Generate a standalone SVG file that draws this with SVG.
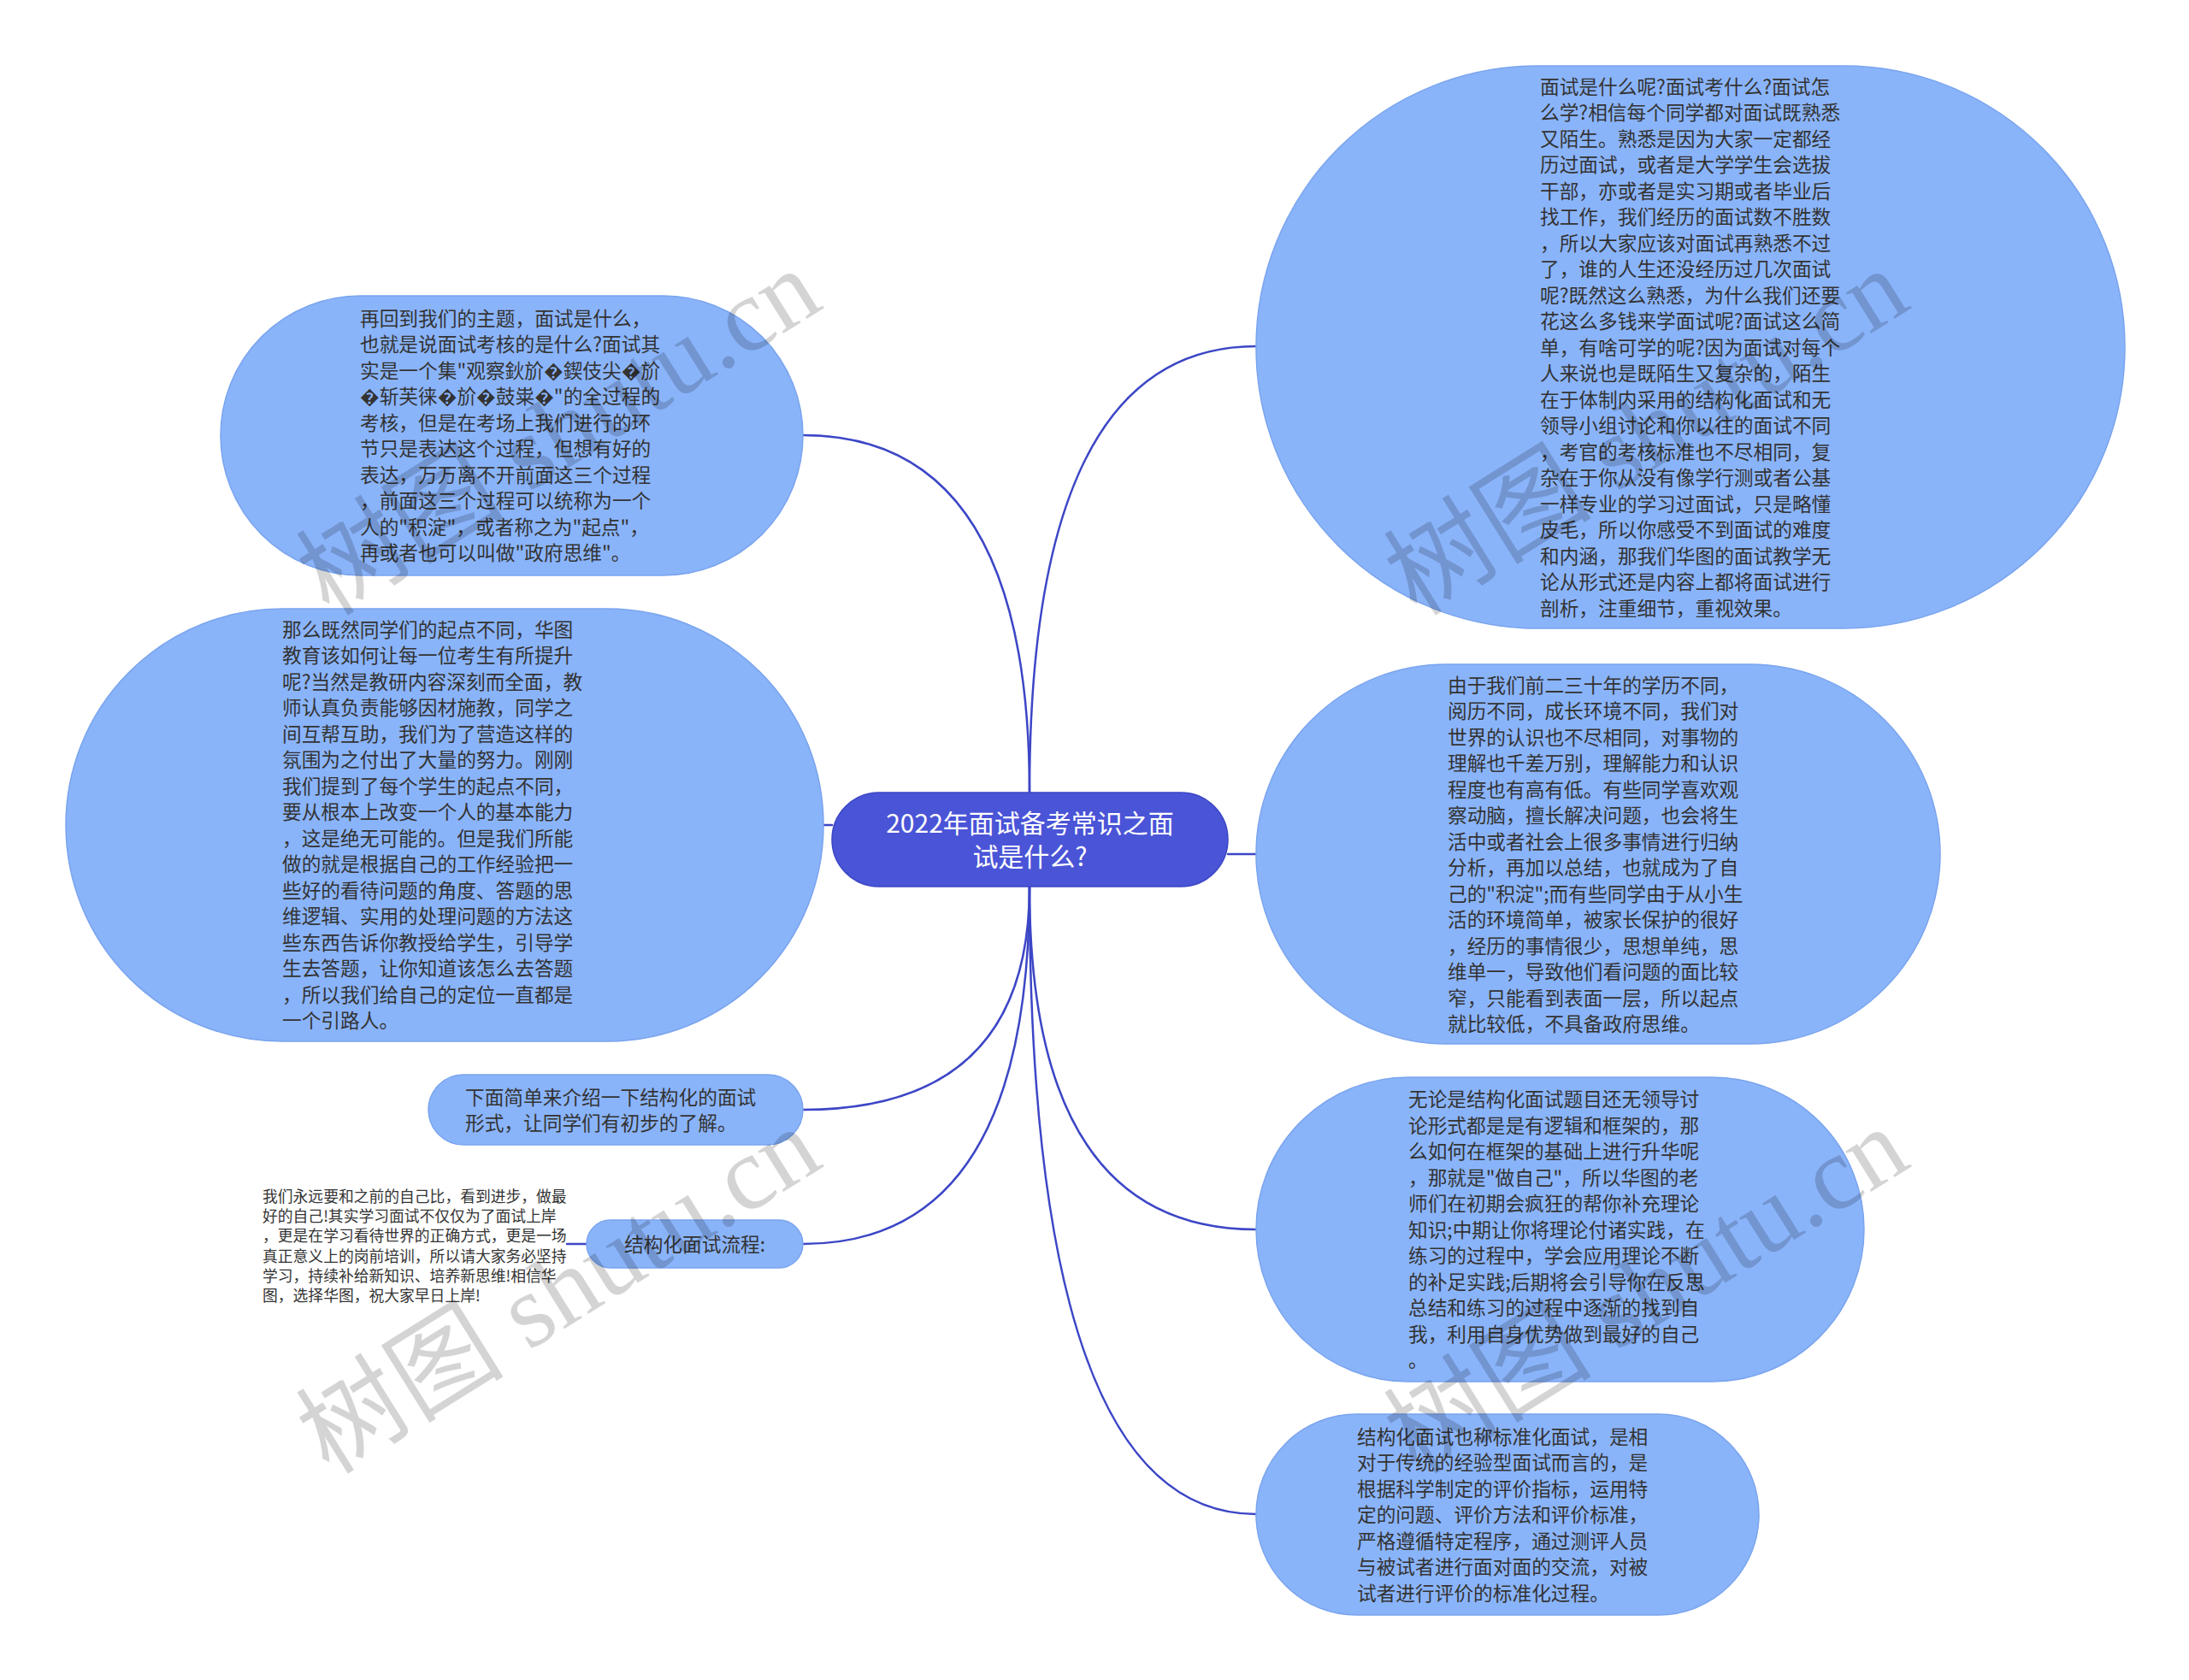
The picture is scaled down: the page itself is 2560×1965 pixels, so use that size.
<svg xmlns="http://www.w3.org/2000/svg" width="2560" height="1965" viewBox="0 0 2560 1965">
<style>
.bg{fill:#ffffff}
.node{fill:#8ab4fa;stroke:#7aa4ee;stroke-width:1.5}
.root{fill:#4a54d7;stroke:#3c46c4;stroke-width:1.5}
.t{font-family:"Noto Sans CJK SC","Noto Sans",sans-serif;font-size:22.7px;fill:#333333}
.rt{font-family:"Noto Sans CJK SC","Noto Sans",sans-serif;font-size:30px;fill:#ffffff;text-anchor:middle}
.small{font-family:"Noto Sans CJK SC","Noto Sans",sans-serif;font-size:17.8px;fill:#333333}
.link{fill:none;stroke:#3c46c6;stroke-width:2.5;stroke-linecap:round}
.wm{font-family:"Liberation Serif","Noto Sans CJK SC",serif;font-size:122px;fill:#000000;fill-opacity:0.17}
</style>
<rect class="bg" x="0" y="0" width="2560" height="1965"/>
<g id="connectors">
<path class="link" d="M1204 927 Q1204 405 1469 405"/>
<path class="link" d="M1204 927 Q1204 509 939 509"/>
<path class="link" d="M973 965 L963 965"/>
<path class="link" d="M1436 999 L1469 999"/>
<path class="link" d="M1204 1037 Q1204 1298 939 1298"/>
<path class="link" d="M1204 1037 Q1204 1455 939 1455"/>
<path class="link" d="M1204 1037 Q1204 1438 1469 1438"/>
<path class="link" d="M1204 1037 Q1204 1771 1469 1771"/>
<path class="link" d="M686 1455 L663 1455"/>
</g>
<g id="root">
<rect class="root" x="973" y="927" width="463" height="110" rx="55"/>
<text class="rt" x="1204.5" y="974">2022年面试备考常识之面</text>
<text class="rt" x="1204.5" y="1013">试是什么?</text>
</g>
<g id="n1">
<rect class="node" x="1469" y="77" width="1016" height="658" rx="329"/>
<text class="t" x="1801" y="109.6">
<tspan x="1801" dy="0">面试是什么呢?面试考什么?面试怎</tspan>
<tspan x="1801" dy="30.5">么学?相信每个同学都对面试既熟悉</tspan>
<tspan x="1801" dy="30.5">又陌生。熟悉是因为大家一定都经</tspan>
<tspan x="1801" dy="30.5">历过面试，或者是大学学生会选拔</tspan>
<tspan x="1801" dy="30.5">干部，亦或者是实习期或者毕业后</tspan>
<tspan x="1801" dy="30.5">找工作，我们经历的面试数不胜数</tspan>
<tspan x="1801" dy="30.5">，所以大家应该对面试再熟悉不过</tspan>
<tspan x="1801" dy="30.5">了，谁的人生还没经历过几次面试</tspan>
<tspan x="1801" dy="30.5">呢?既然这么熟悉，为什么我们还要</tspan>
<tspan x="1801" dy="30.5">花这么多钱来学面试呢?面试这么简</tspan>
<tspan x="1801" dy="30.5">单，有啥可学的呢?因为面试对每个</tspan>
<tspan x="1801" dy="30.5">人来说也是既陌生又复杂的，陌生</tspan>
<tspan x="1801" dy="30.5">在于体制内采用的结构化面试和无</tspan>
<tspan x="1801" dy="30.5">领导小组讨论和你以往的面试不同</tspan>
<tspan x="1801" dy="30.5">，考官的考核标准也不尽相同，复</tspan>
<tspan x="1801" dy="30.5">杂在于你从没有像学行测或者公基</tspan>
<tspan x="1801" dy="30.5">一样专业的学习过面试，只是略懂</tspan>
<tspan x="1801" dy="30.5">皮毛，所以你感受不到面试的难度</tspan>
<tspan x="1801" dy="30.5">和内涵，那我们华图的面试教学无</tspan>
<tspan x="1801" dy="30.5">论从形式还是内容上都将面试进行</tspan>
<tspan x="1801" dy="30.5">剖析，注重细节，重视效果。</tspan>
</text>
</g>
<g id="n2">
<rect class="node" x="258" y="346" width="681" height="327" rx="163.5"/>
<text class="t" x="421" y="380.6">
<tspan x="421" dy="0">再回到我们的主题，面试是什么，</tspan>
<tspan x="421" dy="30.5">也就是说面试考核的是什么?面试其</tspan>
<tspan x="421" dy="30.5">实是一个集"观察鈥斺�鍥伎尖�斺</tspan>
<tspan x="421" dy="30.5">�斩芙徕�斺�鼓粜�"的全过程的</tspan>
<tspan x="421" dy="30.5">考核，但是在考场上我们进行的环</tspan>
<tspan x="421" dy="30.5">节只是表达这个过程，但想有好的</tspan>
<tspan x="421" dy="30.5">表达，万万离不开前面这三个过程</tspan>
<tspan x="421" dy="30.5">，前面这三个过程可以统称为一个</tspan>
<tspan x="421" dy="30.5">人的"积淀"，或者称之为"起点"，</tspan>
<tspan x="421" dy="30.5">再或者也可以叫做"政府思维"。</tspan>
</text>
</g>
<g id="n3">
<rect class="node" x="77" y="712" width="886" height="506" rx="253"/>
<text class="t" x="330" y="744.6">
<tspan x="330" dy="0">那么既然同学们的起点不同，华图</tspan>
<tspan x="330" dy="30.5">教育该如何让每一位考生有所提升</tspan>
<tspan x="330" dy="30.5">呢?当然是教研内容深刻而全面，教</tspan>
<tspan x="330" dy="30.5">师认真负责能够因材施教，同学之</tspan>
<tspan x="330" dy="30.5">间互帮互助，我们为了营造这样的</tspan>
<tspan x="330" dy="30.5">氛围为之付出了大量的努力。刚刚</tspan>
<tspan x="330" dy="30.5">我们提到了每个学生的起点不同，</tspan>
<tspan x="330" dy="30.5">要从根本上改变一个人的基本能力</tspan>
<tspan x="330" dy="30.5">，这是绝无可能的。但是我们所能</tspan>
<tspan x="330" dy="30.5">做的就是根据自己的工作经验把一</tspan>
<tspan x="330" dy="30.5">些好的看待问题的角度、答题的思</tspan>
<tspan x="330" dy="30.5">维逻辑、实用的处理问题的方法这</tspan>
<tspan x="330" dy="30.5">些东西告诉你教授给学生，引导学</tspan>
<tspan x="330" dy="30.5">生去答题，让你知道该怎么去答题</tspan>
<tspan x="330" dy="30.5">，所以我们给自己的定位一直都是</tspan>
<tspan x="330" dy="30.5">一个引路人。</tspan>
</text>
</g>
<g id="n4">
<rect class="node" x="1469" y="777" width="800" height="444" rx="222"/>
<text class="t" x="1693" y="809.6">
<tspan x="1693" dy="0">由于我们前二三十年的学历不同，</tspan>
<tspan x="1693" dy="30.5">阅历不同，成长环境不同，我们对</tspan>
<tspan x="1693" dy="30.5">世界的认识也不尽相同，对事物的</tspan>
<tspan x="1693" dy="30.5">理解也千差万别，理解能力和认识</tspan>
<tspan x="1693" dy="30.5">程度也有高有低。有些同学喜欢观</tspan>
<tspan x="1693" dy="30.5">察动脑，擅长解决问题，也会将生</tspan>
<tspan x="1693" dy="30.5">活中或者社会上很多事情进行归纳</tspan>
<tspan x="1693" dy="30.5">分析，再加以总结，也就成为了自</tspan>
<tspan x="1693" dy="30.5">己的"积淀";而有些同学由于从小生</tspan>
<tspan x="1693" dy="30.5">活的环境简单，被家长保护的很好</tspan>
<tspan x="1693" dy="30.5">，经历的事情很少，思想单纯，思</tspan>
<tspan x="1693" dy="30.5">维单一，导致他们看问题的面比较</tspan>
<tspan x="1693" dy="30.5">窄，只能看到表面一层，所以起点</tspan>
<tspan x="1693" dy="30.5">就比较低，不具备政府思维。</tspan>
</text>
</g>
<g id="n5">
<rect class="node" x="1469" y="1260" width="711" height="356" rx="178"/>
<text class="t" x="1647" y="1294">
<tspan x="1647" dy="0">无论是结构化面试题目还无领导讨</tspan>
<tspan x="1647" dy="30.5">论形式都是是有逻辑和框架的，那</tspan>
<tspan x="1647" dy="30.5">么如何在框架的基础上进行升华呢</tspan>
<tspan x="1647" dy="30.5">，那就是"做自己"，所以华图的老</tspan>
<tspan x="1647" dy="30.5">师们在初期会疯狂的帮你补充理论</tspan>
<tspan x="1647" dy="30.5">知识;中期让你将理论付诸实践，在</tspan>
<tspan x="1647" dy="30.5">练习的过程中，学会应用理论不断</tspan>
<tspan x="1647" dy="30.5">的补足实践;后期将会引导你在反思</tspan>
<tspan x="1647" dy="30.5">总结和练习的过程中逐渐的找到自</tspan>
<tspan x="1647" dy="30.5">我，利用自身优势做到最好的自己</tspan>
<tspan x="1647" dy="30.5">。</tspan>
</text>
</g>
<g id="n6">
<rect class="node" x="1469" y="1654" width="588" height="235" rx="117.5"/>
<text class="t" x="1587" y="1688.6">
<tspan x="1587" dy="0">结构化面试也称标准化面试，是相</tspan>
<tspan x="1587" dy="30.5">对于传统的经验型面试而言的，是</tspan>
<tspan x="1587" dy="30.5">根据科学制定的评价指标，运用特</tspan>
<tspan x="1587" dy="30.5">定的问题、评价方法和评价标准，</tspan>
<tspan x="1587" dy="30.5">严格遵循特定程序，通过测评人员</tspan>
<tspan x="1587" dy="30.5">与被试者进行面对面的交流，对被</tspan>
<tspan x="1587" dy="30.5">试者进行评价的标准化过程。</tspan>
</text>
</g>
<g id="n7">
<rect class="node" x="501" y="1257" width="438" height="82" rx="41"/>
<text class="t" x="544" y="1291.6">
<tspan x="544" dy="0">下面简单来介绍一下结构化的面试</tspan>
<tspan x="544" dy="30.5">形式，让同学们有初步的了解。</tspan>
</text>
</g>
<g id="n8">
<rect class="node" x="686" y="1427" width="253" height="56" rx="28"/>
<text class="t" x="730" y="1463.6">结构化面试流程:</text>
</g>
<g id="n9">
<text class="small" x="307" y="1405.8">
<tspan x="307" dy="0">我们永远要和之前的自己比，看到进步，做最</tspan>
<tspan x="307" dy="23.3">好的自己!其实学习面试不仅仅为了面试上岸</tspan>
<tspan x="307" dy="23.3">，更是在学习看待世界的正确方式，更是一场</tspan>
<tspan x="307" dy="23.3">真正意义上的岗前培训，所以请大家务必坚持</tspan>
<tspan x="307" dy="23.3">学习，持续补给新知识、培养新思维!相信华</tspan>
<tspan x="307" dy="23.3">图，选择华图，祝大家早日上岸!</tspan>
</text>
</g>
<g id="watermarks">
<text class="wm" transform="translate(385 722) rotate(-32)">树图 shutu.cn</text>
<text class="wm" transform="translate(1657 722) rotate(-32)">树图 shutu.cn</text>
<text class="wm" transform="translate(385 1726) rotate(-32)">树图 shutu.cn</text>
<text class="wm" transform="translate(1657 1726) rotate(-32)">树图 shutu.cn</text>
</g>
</svg>
